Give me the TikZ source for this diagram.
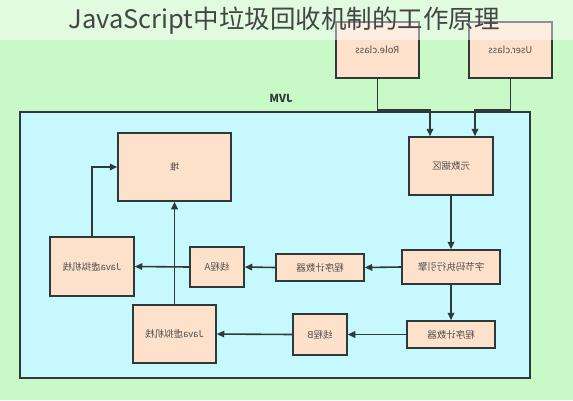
\documentclass[tikz,border=0pt]{standalone}
\usepackage{fontspec}
\usepackage{graphicx}
\setmainfont{Noto Sans CJK SC}
\setsansfont{Noto Sans CJK SC}
\usetikzlibrary{arrows.meta}
\definecolor{bggreen}{HTML}{C8F9C6}
\definecolor{jvmcyan}{HTML}{C6F8FD}
\definecolor{peach}{HTML}{FDE1CA}
\definecolor{edge}{HTML}{2E3A3A}
\definecolor{txt}{HTML}{505050}
\definecolor{titlecol}{HTML}{454545}
\tikzset{
  box/.style={draw=edge, line width=1.5pt, fill=peach, inner sep=0pt,
    font=\fontsize{9.5}{10}\selectfont, text=txt, minimum width=#1},
  box/.default=80pt,
  conn/.style={draw=edge, line width=1.6pt, -{Triangle[length=7.5pt,width=6.5pt]}}
}
\begin{document}
\begin{tikzpicture}[x=1pt,y=-1pt]
\useasboundingbox (0,0) rectangle (573,400);
\fill[bggreen] (0,0) rectangle (573,400);
% JVM area
\node[draw=edge, line width=1.5pt, fill=jvmcyan, minimum width=510pt, minimum height=266pt, inner sep=0pt] (jvm) at (275,245) {};
\node[font=\fontsize{11}{12}\selectfont\bfseries, text=edge] (jvmlabel) at (281,98) {\reflectbox{JVM}};
% boxes
\node[box=83pt, minimum height=56pt] (role) at (377.5,50) {\reflectbox{Role.class}};
\node[box=83pt, minimum height=56pt] (user) at (510.5,50) {\reflectbox{User.class}};
\node[box=84pt, minimum height=58pt] (meta) at (451,166) {\reflectbox{元数据区}};
\node[box=113pt, minimum height=68pt] (heap) at (174.5,167) {\reflectbox{堆}};
\node[box=98pt, minimum height=34pt] (engine) at (451,267) {\reflectbox{字节码执行引擎}};
\node[box=88pt, minimum height=27pt] (pcA) at (320,267.5) {\reflectbox{程序计数器}};
\node[box=54pt, minimum height=40pt] (thA) at (217,267) {\reflectbox{线程A}};
\node[box=84pt, minimum height=59pt] (jvA) at (92,266.5) {\reflectbox{Java虚拟机栈}};
\node[box=88pt, minimum height=27pt] (pcB) at (451,334.5) {\reflectbox{程序计数器}};
\node[box=54pt, minimum height=41pt] (thB) at (320,334.5) {\reflectbox{线程B}};
\node[box=83pt, minimum height=58pt] (jvB) at (174.5,334) {\reflectbox{Java虚拟机栈}};
% connectors
\draw[conn] (role.south) -- ++(0,31) -| ([xshift=-21pt]meta.north);
\draw[conn] (user.south) -- ++(0,31) -| ([xshift=24pt]meta.north);
\draw[conn] (meta.south) -- (engine.north);
\draw[conn] (engine.west) -- (pcA.east);
\draw[conn] (pcA.west) -- (thA.east);
\draw[conn] (thA.west) -- (jvA.east);
\draw[conn] (jvA.north) |- (heap.west);
\draw[conn] (engine.south) -- (pcB.north);
\draw[conn] (pcB.west) -- (thB.east);
\draw[conn] (thB.west) -- (jvB.east);
\draw[conn] (jvB.north) -- (heap.south);
% title band
\fill[white, opacity=0.45] (0,0) rectangle (573,40);
\node[font=\fontsize{25.5}{27}\selectfont, text=titlecol] (title) at (284,21) {JavaScript中垃圾回收机制的工作原理};
\end{tikzpicture}
\end{document}
